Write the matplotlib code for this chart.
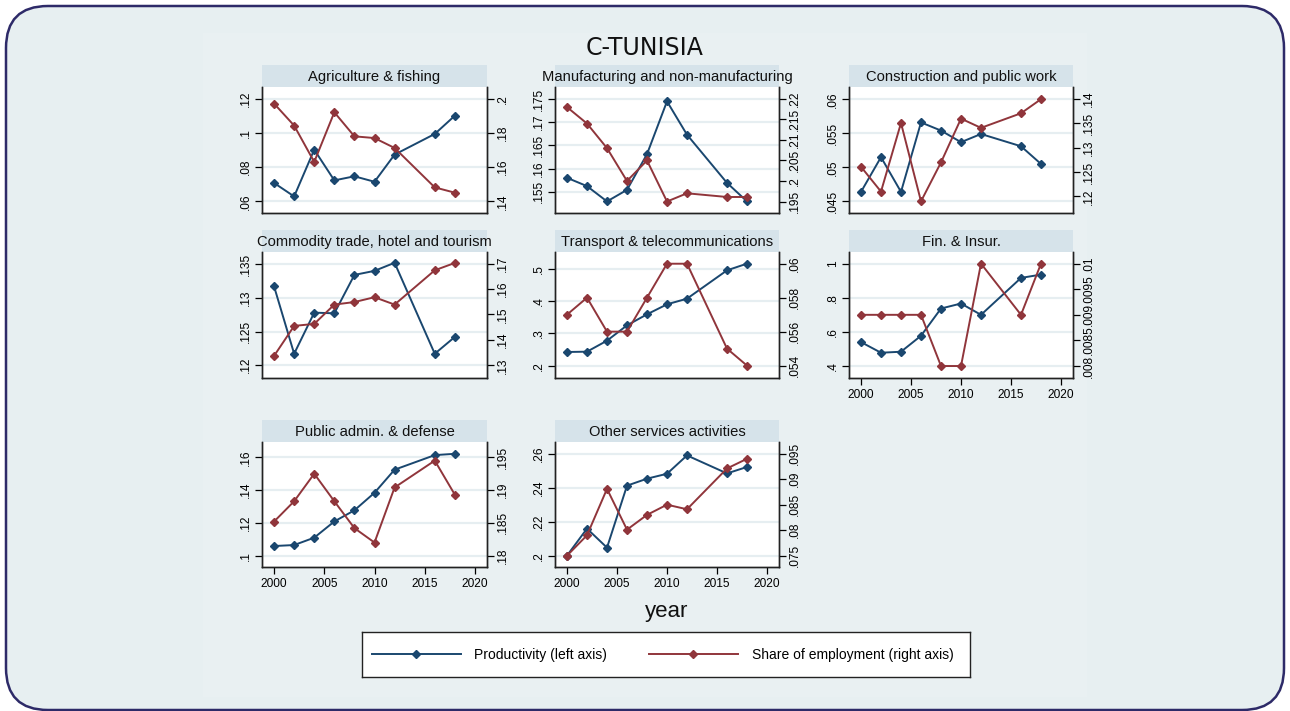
import matplotlib
matplotlib.use("Agg")
import matplotlib.pyplot as plt
from matplotlib.patches import FancyBboxPatch, Rectangle
from matplotlib.lines import Line2D
import matplotlib.ticker as plticker

plt.rcParams['font.family'] = ['Liberation Sans', 'DejaVu Sans']

years = [2000, 2002, 2004, 2006, 2008, 2010, 2012, 2016, 2018]

sectors = ["Agriculture & fishing", "Manufacturing and non-manufacturing",
           "Construction and public work", "Commodity trade, hotel and tourism",
           "Transport & telecommunications", "Fin. & Insur.",
           "Public admin. & defense", "Other services activities"]

# productivity (left axis), one list per sector
prod_agri = [.0708, .0629, .0903, .0723, .0747, .0715, .0874, .0995, .1102]
prod_manu = [.1580, .1562, .1529, .1554, .1631, .1745, .1673, .1569, .1529]
prod_cons = [.0464, .0515, .0464, .0566, .0554, .0537, .0549, .0531, .0505]
prod_trade = [.1317, .1217, .1278, .1277, .1334, .1340, .1352, .1217, .1242]
prod_trans = [.2423, .2433, .2773, .3247, .3588, .3897, .4072, .4948, .5155]
prod_fin = [.5403, .4779, .4838, .5773, .7370, .7662, .7000, .9162, .9357]
prod_pub = [.1059, .1065, .1110, .1209, .1277, .1384, .1525, .1614, .1622]
prod_oth = [.2000, .2159, .2047, .2412, .2453, .2482, .2590, .2484, .2522]

# share of employment (right axis)
emp_agri = [.1973, .1844, .1631, .1922, .1781, .1771, .1713, .1482, .1451]
emp_manu = [.2180, .2140, .2080, .2000, .2050, .1950, .1970, .1961, .1961]
emp_cons = [.1261, .1210, .1351, .1190, .1270, .1360, .1341, .1371, .1400]
emp_trade = [.1337, .1455, .1463, .1539, .1549, .1568, .1539, .1674, .1703]
emp_trans = [.0570, .0580, .0560, .0560, .0580, .0600, .0600, .0550, .0540]
emp_fin = [.0090, .0090, .0090, .0090, .0080, .0080, .0100, .0090, .0100]
emp_pub = [.1852, .1883, .1925, .1883, .1842, .1820, .1904, .1945, .1893]
emp_oth = [.0750, .0790, .0881, .0801, .0830, .0850, .0841, .0921, .0940]

prod = [prod_agri, prod_manu, prod_cons, prod_trade, prod_trans, prod_fin, prod_pub, prod_oth]
emp = [emp_agri, emp_manu, emp_cons, emp_trade, emp_trans, emp_fin, emp_pub, emp_oth]

left_ticks = [[.06, .08, .1, .12], [.155, .16, .165, .17, .175], [.045, .05, .055, .06],
              [.12, .125, .13, .135], [.2, .3, .4, .5], [.4, .6, .8, 1],
              [.1, .12, .14, .16], [.2, .22, .24, .26]]
right_ticks = [[.14, .16, .18, .2], [.195, .2, .205, .21, .215, .22], [.12, .125, .13, .135, .14],
               [.13, .14, .15, .16, .17], [.054, .056, .058, .06], [.008, .0085, .009, .0095, .01],
               [.18, .185, .19, .195], [.075, .08, .085, .09, .095]]
year_ticks = [2000, 2005, 2010, 2015, 2020]

# axis ranges for each panel
left_lims = [(.0532, .1270), (.1504, .1776), (.0433, .0618), (.1181, .1368),
             (.1619, .5515), (.3299, 1.068), (.0931, .1694), (.1933, .2669)]
right_lims = [(.1332, .2070), (.1922, .2229), (.1166, .1425), (.1250, .1746),
              (.05327, .06069), (.007766, .010227), (.17827, .19734), (.07278, .09729)]

W, H = 1290, 711
BLUE = '#1a476f'
RED = '#90353b'
BG = '#e7eff1'
STRIP = '#d6e3ea'
GRID = '#e6eef1'


def px(x0, y0, x1, y1):
    return [x0 / W, 1 - y1 / H, (x1 - x0) / W, (y1 - y0) / H]


def stata_fmt(v, pos):
    s = f"{v:.4f}".rstrip('0').rstrip('.')
    if s.startswith('0.'):
        s = s[1:]
    return s


fig = plt.figure(figsize=(12.9, 7.11), dpi=100, facecolor='white')

# rounded outer frame and the slightly lighter graph region
frame = FancyBboxPatch((0.06, 0.01), 12.78, 7.04, boxstyle="round,pad=0,rounding_size=0.42",
                       transform=fig.dpi_scale_trans, facecolor=BG, edgecolor='#2d2a68',
                       linewidth=1.8, zorder=-3)
fig.patches.append(frame)
fig.patches.append(Rectangle((203 / W, 0.02), (1087 - 203) / W, 1 - 33 / H - 0.02,
                             transform=fig.transFigure, facecolor='#e9f0f2',
                             edgecolor='none', zorder=-2))

cols = [(262, 487), (555, 779), (849, 1073)]
rows = [(87, 213), (252, 378), (442, 567)]
with_years = {5, 6, 7}

for i, name in enumerate(sectors):
    x0, x1 = cols[i % 3]
    y0, y1 = rows[i // 3]
    ax = fig.add_axes(px(x0, y0, x1, y1), facecolor='white')
    ax.set_zorder(2)

    # title strip
    st = fig.add_axes(px(x0, y0 - 22, x1, y0), facecolor=STRIP)
    st.set_zorder(1)
    st.set_xticks([])
    st.set_yticks([])
    for sp in st.spines.values():
        sp.set_visible(False)
    st.text(0.5, 0.47, name, ha='center', va='center', fontsize=10.6, color='#111111',
            transform=st.transAxes)

    ax.plot(years, prod[i], color=BLUE, marker='D', ms=4.5, lw=1.4, zorder=3)
    ax.set_xlim(1998.8, 2021.2)
    ax.set_ylim(*left_lims[i])
    ax.set_yticks(left_ticks[i])
    ax.yaxis.set_major_formatter(plticker.FuncFormatter(stata_fmt))
    ax.grid(axis='y', color=GRID, lw=1.6)
    ax.set_axisbelow(True)
    ax.spines['top'].set_visible(False)
    for sp in ('left', 'right', 'bottom'):
        ax.spines[sp].set_linewidth(1.0)
        ax.spines[sp].set_color('#222222')
    ax.tick_params(axis='y', length=5, width=0.9, labelsize=8.6, pad=2)
    plt.setp(ax.get_yticklabels(), rotation=90, va='center')
    if i in with_years:
        ax.set_xticks(year_ticks)
        ax.tick_params(axis='x', length=5, width=0.9, labelsize=8.6, pad=3)
    else:
        ax.set_xticks([])

    ax2 = ax.twinx()
    ax2.plot(years, emp[i], color=RED, marker='D', ms=4.5, lw=1.4, zorder=3)
    ax2.set_ylim(*right_lims[i])
    ax2.set_yticks(right_ticks[i])
    ax2.yaxis.set_major_formatter(plticker.FuncFormatter(stata_fmt))
    ax2.spines['top'].set_visible(False)
    for sp in ('left', 'right', 'bottom'):
        ax2.spines[sp].set_linewidth(1.0)
        ax2.spines[sp].set_color('#222222')
    ax2.tick_params(axis='y', length=5, width=0.9, labelsize=8.6, pad=2)
    plt.setp(ax2.get_yticklabels(), rotation=90, va='center')

fig.text(645 / W, 1 - 48 / H, "C-TUNISIA", ha='center', va='center', fontsize=17,
         family=['DejaVu Sans'], color='#111111')
fig.text(667 / W, 1 - 612 / H, "year", ha='center', va='center', fontsize=16, color='#111111')

# legend box
lg = fig.add_axes(px(362, 632, 970, 677), facecolor='white')
lg.set_zorder(1)
lg.set_xticks([])
lg.set_yticks([])
for sp in lg.spines.values():
    sp.set_linewidth(1.0)
    sp.set_color('#222222')
handles = [Line2D([], [], color=BLUE, marker='D', ms=4.5, lw=1.4),
           Line2D([], [], color=RED, marker='D', ms=4.5, lw=1.4)]
lg.legend(handles, ["Productivity (left axis)", "Share of employment (right axis)"],
          loc='center left', ncol=2, frameon=False, fontsize=10, handlelength=6.4,
          handletextpad=1.0, columnspacing=3.0, borderaxespad=0.3)

fig.savefig("out.png", dpi=100, facecolor=fig.get_facecolor())
